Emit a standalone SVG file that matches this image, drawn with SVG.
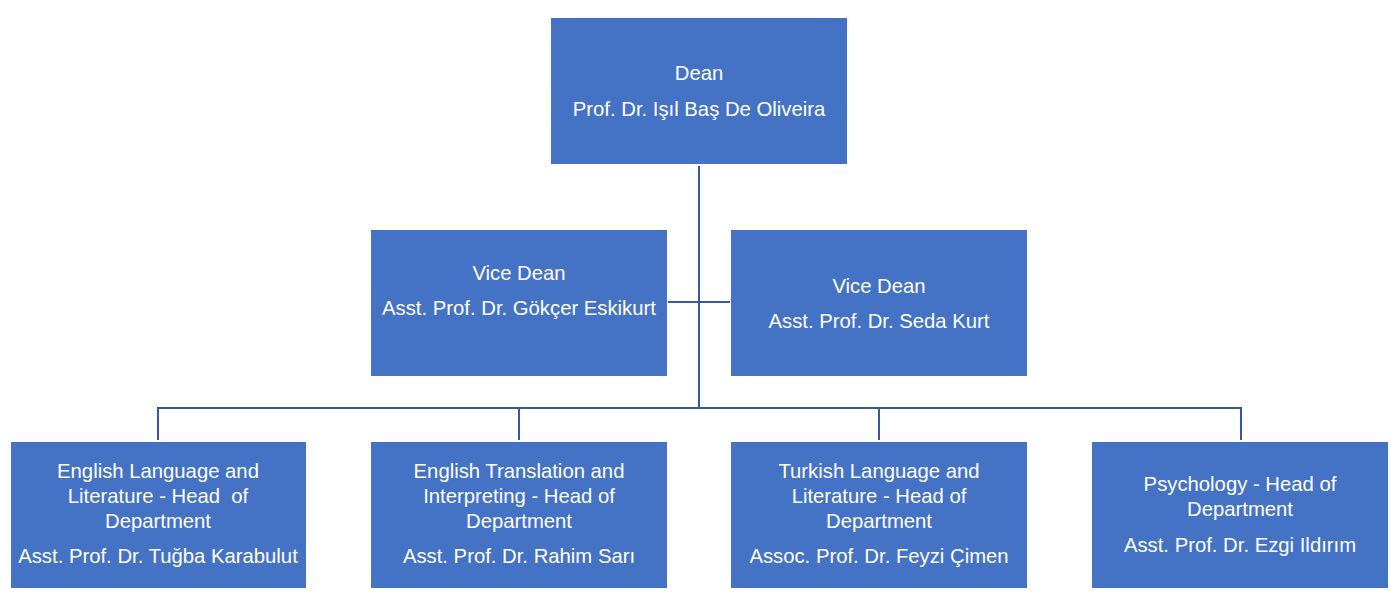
<svg xmlns="http://www.w3.org/2000/svg" width="1391" height="607" viewBox="0 0 1391 607">
<style>
.box{fill:#4472C4;}
.t{font-family:"Liberation Sans",Arial,sans-serif;font-size:20.3px;fill:#FFFFFF;text-anchor:middle;white-space:pre;}
.c{stroke:#35599B;stroke-width:2;fill:none;}
</style>
<rect width="1391" height="607" fill="#FFFFFF"/>
<g id="connectors">
<path class="c" d="M699,166 V408"/>
<path class="c" d="M668,302 H730"/>
<path class="c" d="M158,440 V408 H1241 V440"/>
<path class="c" d="M519,408 V440"/>
<path class="c" d="M879,408 V440"/>
</g>
<g id="dean">
<rect class="box" x="551" y="18" width="296" height="146"/>
<text class="t" x="699" y="80">Dean</text>
<text class="t" x="699" y="116">Prof. Dr. Işıl Baş De Oliveira</text>
</g>
<g id="vice-dean-1">
<rect class="box" x="371" y="230" width="296" height="146"/>
<text class="t" x="519" y="280">Vice Dean</text>
<text class="t" x="519" y="315">Asst. Prof. Dr. Gökçer Eskikurt</text>
</g>
<g id="vice-dean-2">
<rect class="box" x="731" y="230" width="296" height="146"/>
<text class="t" x="879" y="293">Vice Dean</text>
<text class="t" x="879" y="328">Asst. Prof. Dr. Seda Kurt</text>
</g>
<g id="dept-english-lit">
<rect class="box" x="11" y="442" width="295" height="146"/>
<text class="t" x="158" y="478">English Language and</text>
<text class="t" x="158" y="503" xml:space="preserve">Literature - Head  of</text>
<text class="t" x="158" y="528">Department</text>
<text class="t" x="158" y="563">Asst. Prof. Dr. Tuğba Karabulut</text>
</g>
<g id="dept-translation">
<rect class="box" x="371" y="442" width="296" height="146"/>
<text class="t" x="519" y="478">English Translation and</text>
<text class="t" x="519" y="503">Interpreting - Head of</text>
<text class="t" x="519" y="528">Department</text>
<text class="t" x="519" y="563">Asst. Prof. Dr. Rahim Sarı</text>
</g>
<g id="dept-turkish">
<rect class="box" x="731" y="442" width="296" height="146"/>
<text class="t" x="879" y="478">Turkish Language and</text>
<text class="t" x="879" y="503">Literature - Head of</text>
<text class="t" x="879" y="528">Department</text>
<text class="t" x="879" y="563">Assoc. Prof. Dr. Feyzi Çimen</text>
</g>
<g id="dept-psychology">
<rect class="box" x="1092" y="442" width="296" height="146"/>
<text class="t" x="1240" y="491">Psychology - Head of</text>
<text class="t" x="1240" y="516">Department</text>
<text class="t" x="1240" y="552">Asst. Prof. Dr. Ezgi Ildırım</text>
</g>
</svg>
